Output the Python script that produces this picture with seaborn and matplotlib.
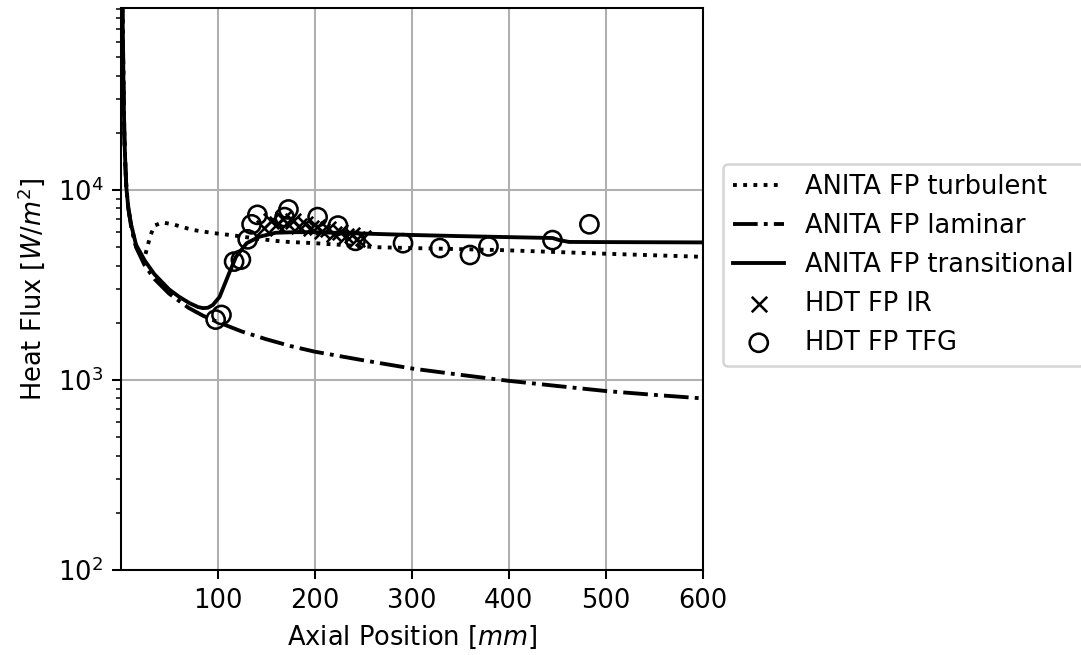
import matplotlib
matplotlib.use("Agg")
import matplotlib.pyplot as plt
import seaborn as sns

# ---- data ----
lam_x = [1, 1.5, 2, 2.5, 3, 3.5, 4, 5, 6, 8, 11, 16, 25, 35, 50, 70, 85, 100,
         125, 150, 175, 200, 250, 300, 350, 400, 450, 500, 550, 600]
lam_y = [200000, 130000, 90000, 62000, 38000, 26000, 19000, 13500, 10300, 8000,
         6400, 5000, 4000, 3400, 2850, 2400, 2180, 2020, 1800, 1640, 1510, 1410,
         1270, 1150, 1065, 990, 930, 875, 835, 800]

turb_x = [1, 1.5, 2, 2.5, 3, 3.5, 4, 5, 6, 8, 11, 16, 20, 25, 28, 31, 35, 43,
          54, 74, 95, 115, 140, 167, 200, 264, 300, 391, 500, 600]
turb_y = [200000, 130000, 90000, 62000, 38000, 26000, 19000, 13500, 10300, 8050,
          6450, 5050, 4600, 4450, 5100, 5800, 6500, 6750, 6600, 6170, 5940, 5780,
          5550, 5350, 5250, 5000, 4950, 4830, 4620, 4450]

trans_x = [1, 1.5, 2, 2.5, 3, 3.5, 4, 5, 6, 8, 11, 16, 25, 35, 50, 60, 71, 80,
           85, 90, 95, 102, 112, 119, 130, 143, 160, 180, 200, 250, 300, 350,
           400, 445, 452, 462, 500, 600]
trans_y = [200000, 130000, 90000, 62000, 38000, 26000, 19000, 13500, 10300, 8100,
           6550, 5150, 4250, 3600, 3000, 2750, 2540, 2420, 2390, 2400, 2480, 2735,
           3660, 4460, 5250, 5680, 5960, 6000, 6000, 5900, 5800, 5720, 5650, 5590,
           5450, 5330, 5320, 5300]

ir_x = [148, 155, 161, 167, 172, 178, 184, 190, 196, 202, 208, 214, 220, 226,
        232, 238, 244, 250]
ir_y = [6300, 6900, 6600, 7000, 6700, 6900, 6500, 6600, 6300, 6400, 6100, 6200,
        5900, 6000, 5700, 5800, 5500, 5600]

tfg_x = [98, 104, 117, 124, 131, 135, 141, 169, 173, 203, 224, 242, 291, 329,
         360, 379, 445, 483]
tfg_y = [2080, 2200, 4200, 4300, 5500, 6600, 7400, 7200, 7900, 7200, 6500, 5400,
         5250, 4950, 4550, 5050, 5450, 6600]

labels = ["ANITA FP turbulent", "ANITA FP laminar", "ANITA FP transitional",
          "HDT FP IR", "HDT FP TFG"]

# ---- figure ----
plt.rcdefaults()
DPI = 185
fig = plt.figure(figsize=(1081 / DPI, 655 / DPI), dpi=DPI)
ax = fig.add_axes([121 / 1081, 85 / 655, 582 / 1081, 562 / 655])

LW = 1.5
sns.lineplot(x=turb_x, y=turb_y, ax=ax, color="k", linestyle=":", linewidth=LW,
             sort=False, estimator=None, label=labels[0])
sns.lineplot(x=lam_x, y=lam_y, ax=ax, color="k", linestyle="-.", linewidth=LW,
             sort=False, estimator=None, label=labels[1])
sns.lineplot(x=trans_x, y=trans_y, ax=ax, color="k", linestyle="-", linewidth=LW,
             sort=False, estimator=None, label=labels[2])
sns.scatterplot(x=ir_x, y=ir_y, ax=ax, marker="x", color="k", s=36,
                linewidth=1.0, label=labels[3], zorder=3)
sns.scatterplot(x=tfg_x, y=tfg_y, ax=ax, marker="o", facecolors="none",
                edgecolor="k", color="k", s=50, linewidth=1.0, label=labels[4],
                zorder=3)

ax.set_yscale("log")
ax.set_xlim(0.5, 600)
ax.set_ylim(100, 9.08e4)
ax.set_xticks([100, 200, 300, 400, 500, 600])
ax.grid(True, which="major", color="#b0b0b0", linewidth=0.8)
ax.set_axisbelow(True)
ax.set_xlabel("Axial Position [$mm$]")
ax.set_ylabel("Heat Flux [$W/m^2$]")

ax.legend(loc="center left", bbox_to_anchor=(1.034, 0.543), borderaxespad=0)

fig.savefig("out.png", dpi=DPI)
